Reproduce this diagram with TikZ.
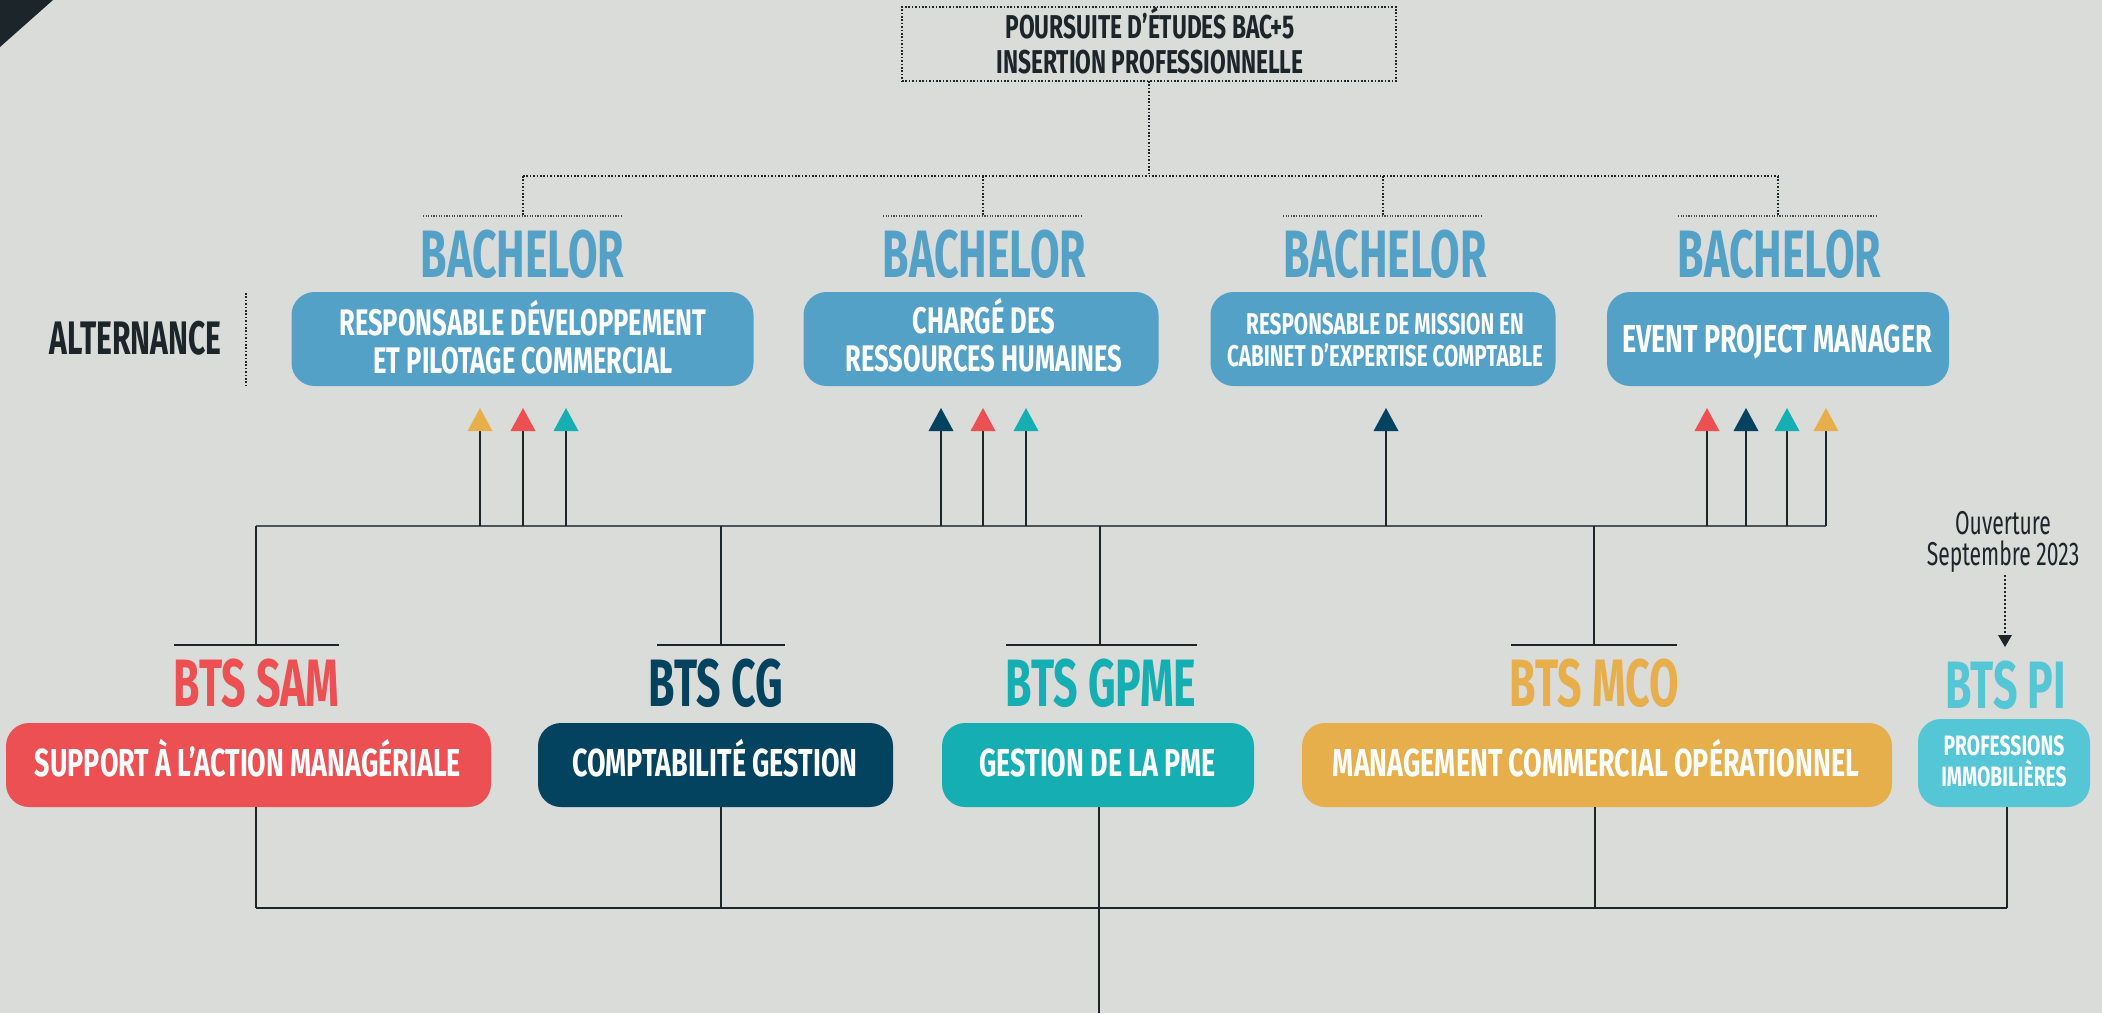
\documentclass[tikz,border=0pt]{standalone}
\usepackage{fontspec}
\setmainfont{Fira Sans}
\newfontfamily\cnd{Fira Sans}[FakeStretch=0.64]
\newfontfamily\cndb{Fira Sans}[FakeStretch=0.69]
\usetikzlibrary{arrows.meta}
\definecolor{bgc}{HTML}{DADCD9}
\definecolor{dark}{HTML}{1C252A}
\definecolor{hlc}{HTML}{4D555A}
\definecolor{blu}{HTML}{54A1C7}
\definecolor{cred}{HTML}{EC5053}
\definecolor{cnavy}{HTML}{03435F}
\definecolor{cteal}{HTML}{15AFB3}
\definecolor{cyel}{HTML}{E7AF4C}
\definecolor{ccyan}{HTML}{55C6D6}
\newcommand\myfs[1]{\fontsize{#1}{#1}\selectfont}
\begin{document}
\begin{tikzpicture}[x=1pt,y=-1pt,
  every node/.style={inner sep=0pt, outer sep=0pt},
  hdr/.style={anchor=base, font=\cnd\bfseries\myfs{67}},
  lbl/.style={anchor=base, text=white, font=\cndb\bfseries\myfs{#1}},
  dlbl/.style={anchor=base, text=dark, font=\cndb\bfseries\myfs{#1}},
  rbox/.style={rounded corners=23pt, draw=none},
  dotline/.style={draw=dark, line width=1.2pt, dash pattern=on 1.6pt off 1.8pt},
  dotfine/.style={draw=dark!80, line width=1.4pt, dash pattern=on 1.2pt off 1.4pt},
  thin/.style={draw=dark, line width=1.3pt},
  bar/.style={draw=dark, line width=2pt},
  hline/.style={draw=hlc, line width=2.4pt},
  up/.style={thin, shorten >=22pt, -{Triangle[width=25pt,length=23pt,line width=0pt,color=#1]}}
]
% background
\fill[bgc] (0,0) rectangle (2102,1013);
\useasboundingbox (0,0) rectangle (2102,1013);
\fill[dark] (0,0) -- (53,0) -- (0,47) -- cycle;

% top box
\node[dotline, minimum width=494pt, minimum height=74pt] (tb) at (1149,44) {};
\node[dlbl=33] (tbt1) at (1150,38) {POURSUITE D’ÉTUDES BAC+5};
\node[dlbl=33] (tbt2) at (1150,73) {INSERTION PROFESSIONNELLE};

% alternance
\node[anchor=base, text=dark, font=\cnd\bfseries\myfs{47}] (alt) at (135.5,354) {ALTERNANCE};
\draw[dotline] (246,293) -- (246,386);

% dotted tree
\coordinate (jy) at (0,176);
\coordinate (bar1) at (523,216);
\coordinate (bar2) at (983,216);
\coordinate (bar3) at (1383,216);
\coordinate (bar4) at (1778,216);
\draw[dotline] (tb.south) -- (tb.south |- jy);
\draw[dotline] (bar1 |- jy) -- (bar4 |- jy);
\foreach \b in {bar1,bar2,bar3,bar4}{
  \draw[dotline] (\b |- jy) -- (\b);
  \draw[dotfine] ([xshift=-100pt]\b) -- ([xshift=100pt]\b);
}

% bachelor titles
\node[hdr, text=blu] (h1) at (522.5,277) {BACHELOR};
\node[hdr, text=blu] (h2) at (984.5,277) {BACHELOR};
\node[hdr, text=blu] (h3) at (1385,277) {BACHELOR};
\node[hdr, text=blu] (h4) at (1779.5,277) {BACHELOR};

% bachelor boxes
\node[rbox, fill=blu, minimum width=462pt, minimum height=94pt] (b1) at (522.5,339) {};
\node[rbox, fill=blu, minimum width=355pt, minimum height=94pt] (b2) at (981,339) {};
\node[rbox, fill=blu, minimum width=345pt, minimum height=94pt] (b3) at (1383,339) {};
\node[rbox, fill=blu, minimum width=342pt, minimum height=94pt] (b4) at (1778,339) {};
\node[lbl=37] (b1a) at (523,335) {RESPONSABLE DÉVELOPPEMENT};
\node[lbl=37] (b1b) at (523,373) {ET PILOTAGE COMMERCIAL};
\node[lbl=37] (b2a) at (984,333) {CHARGÉ DES};
\node[lbl=37] (b2b) at (984,371) {RESSOURCES HUMAINES};
\node[lbl=30] (b3a) at (1385,334) {RESPONSABLE DE MISSION EN};
\node[lbl=30] (b3b) at (1385,366) {CABINET D’EXPERTISE COMPTABLE};
\node[lbl=39] (b4a) at (1777,352) {EVENT PROJECT MANAGER};

% middle horizontal line
\coordinate (hy) at (0,526);
\coordinate (s1) at (256,645);
\coordinate (s2) at (721,645);
\coordinate (s3) at (1100,645);
\coordinate (s4) at (1594,645);
\draw[hline] (s1 |- hy) -- (1826,526) coordinate (hend);

% arrows to bachelors
\coordinate (a11) at (480,526);
\coordinate (a12) at (523,526);
\coordinate (a13) at (566,526);
\coordinate (a21) at (941,526);
\coordinate (a22) at (983,526);
\coordinate (a23) at (1026,526);
\coordinate (a31) at (1386,526);
\coordinate (a41) at (1707,526);
\coordinate (a42) at (1746,526);
\coordinate (a43) at (1787,526);
\coordinate (a44) at (1826,526);
\draw[up=cyel] (a11) -- (a11 |- b1.south);
\draw[up=cred] (a12) -- (a12 |- b1.south);
\draw[up=cteal] (a13) -- (a13 |- b1.south);
\draw[up=cnavy] (a21) -- (a21 |- b2.south);
\draw[up=cred] (a22) -- (a22 |- b2.south);
\draw[up=cteal] (a23) -- (a23 |- b2.south);
\draw[up=cnavy] (a31) -- (a31 |- b3.south);
\draw[up=cred] (a41) -- (a41 |- b4.south);
\draw[up=cnavy] (a42) -- (a42 |- b4.south);
\draw[up=cteal] (a43) -- (a43 |- b4.south);
\draw[up=cyel] (a44) -- (a44 |- b4.south);

% drops to BTS bars
\foreach \s in {s1,s2,s3,s4}{\draw[thin] (\s |- hy) -- (\s);}
\draw[bar] (174,645) -- (339,645);
\draw[bar] (657,645) -- (785,645);
\draw[bar] (1006,645) -- (1197,645);
\draw[bar] (1511,645) -- (1677,645);

% BTS titles
\node[hdr, text=cred] (t1) at (256.5,706) {BTS SAM};
\node[hdr, text=cnavy] (t2) at (716,706) {BTS CG};
\node[hdr, text=cteal] (t3) at (1101,706) {BTS GPME};
\node[hdr, text=cyel] (t4) at (1594.5,706) {BTS MCO};
\node[hdr, text=ccyan] (t5) at (2005.5,708) {BTS PI};

% BTS boxes
\node[rbox, fill=cred, minimum width=485pt, minimum height=84pt] (c1) at (248.5,765) {};
\node[rbox, fill=cnavy, minimum width=355pt, minimum height=84pt] (c2) at (715.5,765) {};
\node[rbox, fill=cteal, minimum width=312pt, minimum height=84pt] (c3) at (1098,765) {};
\node[rbox, fill=cyel, minimum width=590pt, minimum height=84pt] (c4) at (1597,765) {};
\node[rbox, fill=ccyan, minimum width=172pt, minimum height=88pt] (c5) at (2004,763) {};
\node[lbl=39] (c1a) at (248,776) {SUPPORT À L’ACTION MANAGÉRIALE};
\node[lbl=39] (c2a) at (715,776) {COMPTABILITÉ GESTION};
\node[lbl=39] (c3a) at (1097.5,776) {GESTION DE LA PME};
\node[lbl=39] (c4a) at (1596,776) {MANAGEMENT COMMERCIAL OPÉRATIONNEL};
\node[lbl=28] (c5a) at (2004,755) {PROFESSIONS};
\node[lbl=28] (c5b) at (2004,786) {IMMOBILIÈRES};

% ouverture
\node[anchor=base, text=dark, font=\cnd\myfs{33}] (ouv1) at (2003,534) {Ouverture};
\node[anchor=base, text=dark, font=\cnd\myfs{33}] (ouv2) at (2003,565) {Septembre 2023};
\coordinate (oa) at (2005,575);
\coordinate (ob) at (2005,647);
\draw[draw=dark, line width=1.2pt, dash pattern=on 2pt off 2pt, -{Triangle[width=14pt,length=12pt,line width=0pt]}] (oa) -- (ob);

% bottom
\coordinate (by) at (0,908);
\coordinate (d1) at (256,908);
\coordinate (d2) at (721,908);
\coordinate (d3) at (1099,908);
\coordinate (d4) at (1595,908);
\coordinate (d5) at (2007,908);
\draw[thin] (d1 |- c1.south) -- (d1);
\draw[thin] (d2 |- c2.south) -- (d2);
\draw[thin] (d3 |- c3.south) -- (d3);
\draw[thin] (d4 |- c4.south) -- (d4);
\draw[thin] (d5 |- c5.south) -- (d5);
\draw[draw=dark, line width=2.4pt] (d1) -- (d5);
\coordinate (dend) at (1099,1013);
\draw[thin] (d3) -- (dend);
\end{tikzpicture}
\end{document}
